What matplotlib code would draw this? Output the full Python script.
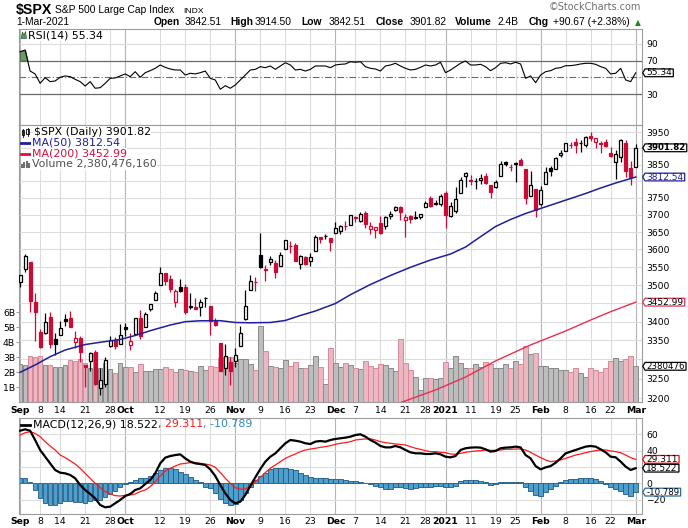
import numpy as np
import pandas as pd
import matplotlib
matplotlib.use("Agg")
import matplotlib.pyplot as plt
import matplotlib.transforms as mtransforms
from matplotlib.path import Path
from matplotlib.patches import Polygon
from matplotlib.lines import Line2D
from matplotlib.ticker import NullLocator, NullFormatter

plt.rcParams['font.family'] = ['DejaVu Sans']
W, H = 688, 528

# ---------------- data ----------------
holidays = ['2020-09-07', '2020-11-26', '2020-12-25', '2021-01-01', '2021-01-18', '2021-02-15']
dates = [d.strftime('%Y-%m-%d') for d in pd.bdate_range('2020-09-01', '2021-03-01')
         if d.strftime('%Y-%m-%d') not in holidays]

opens = [3507.44, 3543.76, 3564.74, 3453.60, 3371.88, 3369.82, 3412.56, 3352.70, 3363.56, 3407.73,
         3411.23, 3346.86, 3357.38, 3285.57, 3295.75, 3320.11, 3226.14, 3236.66, 3333.90, 3350.92, 3341.21,
         3385.87, 3338.94, 3367.27, 3408.74, 3384.56, 3434.28, 3459.67, 3500.02, 3534.01, 3515.47,
         3453.72, 3493.50, 3493.66, 3439.38, 3439.91, 3438.50, 3464.90, 3441.42, 3403.15, 3342.48,
         3277.17, 3293.59,
         3296.20, 3336.25, 3406.46, 3485.74, 3508.34, 3583.04, 3543.26, 3563.22, 3562.67, 3552.57,
         3600.16, 3610.31, 3612.09, 3559.41, 3579.31, 3566.82, 3594.52, 3635.50, 3638.55, 3634.18,
         3645.87, 3653.78, 3668.28, 3670.94, 3694.73, 3683.05, 3705.98, 3659.13, 3656.08, 3675.27,
         3666.41, 3696.25, 3713.65, 3722.39, 3684.28, 3698.08, 3693.42, 3694.03, 3723.03, 3750.01,
         3736.19, 3733.27,
         3764.61, 3698.02, 3712.20, 3764.71, 3815.05, 3803.14, 3801.62, 3802.23, 3814.98, 3788.73,
         3781.88, 3816.22, 3857.46, 3844.24, 3851.68, 3862.96, 3836.83, 3755.75, 3778.05,
         3731.17, 3791.84, 3840.27, 3836.66, 3878.30, 3892.59, 3910.49, 3920.78, 3916.40, 3911.65,
         3939.61, 3918.50, 3915.86, 3921.16, 3885.55, 3857.07, 3873.71, 3915.80, 3839.66,
         3842.51]
highs = [3528.03, 3588.11, 3564.85, 3479.15, 3379.97, 3424.77, 3425.55, 3368.95, 3402.93, 3419.48,
         3428.92, 3375.17, 3362.27, 3285.57, 3320.31, 3323.35, 3278.70, 3306.88, 3360.74, 3357.92, 3393.56,
         3397.18, 3369.10, 3409.57, 3431.56, 3426.26, 3447.28, 3482.34, 3549.85, 3534.01, 3527.94,
         3489.08, 3515.76, 3502.42, 3476.93, 3464.86, 3460.53, 3466.46, 3441.42, 3409.51, 3342.48,
         3341.05, 3304.93,
         3330.14, 3389.49, 3486.25, 3529.05, 3521.58, 3645.99, 3557.22, 3581.16, 3569.02, 3593.66,
         3628.51, 3623.11, 3619.09, 3585.22, 3581.23, 3589.81, 3642.31, 3635.50, 3644.31, 3634.18,
         3678.45, 3670.96, 3682.73, 3699.20, 3697.41, 3708.45, 3712.39, 3678.49, 3665.91, 3697.61,
         3695.29, 3711.27, 3725.12, 3726.70, 3702.90, 3698.26, 3711.24, 3703.82, 3740.51, 3756.12,
         3744.63, 3760.20,
         3769.99, 3737.83, 3783.04, 3811.55, 3826.69, 3817.86, 3810.78, 3820.96, 3823.60, 3788.73,
         3804.53, 3859.75, 3861.45, 3852.31, 3859.23, 3870.90, 3836.83, 3830.50, 3778.05,
         3784.32, 3843.09, 3847.51, 3872.42, 3894.56, 3915.77, 3918.35, 3931.50, 3925.99, 3937.23,
         3950.43, 3933.61, 3921.98, 3930.41, 3902.92, 3895.98, 3928.65, 3925.02, 3861.08,
         3914.50]
lows = [3494.60, 3535.23, 3427.41, 3349.63, 3329.27, 3366.84, 3329.25, 3310.47, 3363.56, 3389.25,
        3384.45, 3328.82, 3292.40, 3229.10, 3270.95, 3232.57, 3209.45, 3228.44, 3332.91, 3327.54, 3340.47,
        3361.39, 3323.69, 3367.27, 3354.54, 3384.56, 3428.15, 3458.07, 3499.61, 3500.86, 3480.55,
        3440.89, 3480.45, 3419.93, 3435.65, 3433.06, 3415.34, 3440.45, 3364.86, 3388.71, 3268.89,
        3259.82, 3233.94,
        3279.74, 3336.25, 3405.17, 3485.74, 3484.34, 3547.48, 3511.91, 3557.00, 3518.58, 3552.57,
        3600.16, 3588.68, 3567.33, 3543.84, 3556.85, 3552.77, 3594.52, 3617.76, 3629.33, 3594.39,
        3645.87, 3644.84, 3657.17, 3670.94, 3678.88, 3678.83, 3660.54, 3645.18, 3633.40, 3645.84,
        3659.62, 3688.57, 3710.87, 3685.84, 3636.48, 3676.16, 3689.28, 3689.32, 3723.03, 3723.31,
        3730.21, 3726.88,
        3662.71, 3695.07, 3705.34, 3764.71, 3783.60, 3789.02, 3776.51, 3791.50, 3792.86, 3749.62,
        3780.37, 3816.22, 3845.05, 3830.41, 3797.16, 3847.78, 3732.48, 3755.75, 3694.12,
        3725.62, 3791.84, 3816.68, 3836.66, 3874.93, 3892.59, 3902.64, 3884.94, 3890.39, 3905.78,
        3923.85, 3900.43, 3885.03, 3903.07, 3874.71, 3805.59, 3859.60, 3814.04, 3789.54,
        3842.51]
closes = [3526.65, 3580.84, 3455.06, 3426.96, 3331.84, 3398.96, 3339.19, 3340.97, 3383.54, 3401.20,
          3385.49, 3357.01, 3319.47, 3281.06, 3315.57, 3236.92, 3246.59, 3298.46, 3351.60, 3335.47, 3363.00,
          3380.80, 3348.42, 3408.60, 3360.97, 3419.44, 3446.83, 3477.14, 3534.22, 3511.93, 3488.67,
          3483.34, 3483.81, 3426.92, 3443.12, 3435.56, 3453.49, 3465.39, 3400.97, 3390.68, 3271.03,
          3310.11, 3269.96,
          3310.24, 3369.16, 3443.44, 3510.45, 3509.44, 3550.50, 3545.53, 3572.66, 3537.01, 3585.15,
          3626.91, 3609.53, 3567.79, 3581.87, 3557.54, 3577.59, 3635.41, 3629.65, 3638.35, 3621.63,
          3662.45, 3669.01, 3666.72, 3699.12, 3691.96, 3702.25, 3672.82, 3668.10, 3663.46, 3647.49,
          3694.62, 3701.17, 3722.48, 3709.41, 3694.92, 3687.26, 3690.01, 3703.06, 3735.36, 3727.04,
          3732.04, 3756.07,
          3700.65, 3726.86, 3748.14, 3803.79, 3824.68, 3799.61, 3801.19, 3809.84, 3795.54, 3768.25,
          3798.91, 3851.85, 3853.07, 3841.47, 3855.36, 3849.62, 3750.77, 3787.38, 3714.24,
          3773.86, 3826.31, 3830.17, 3871.74, 3886.83, 3915.59, 3911.23, 3909.88, 3916.38, 3934.83,
          3932.59, 3931.33, 3913.97, 3906.71, 3876.50, 3881.37, 3925.43, 3829.34, 3811.15,
          3901.82]
prev_close_start = 3500.31

volume_b = [2.51, 2.50, 3.10, 3.00, 3.08, 2.47, 2.50, 2.31, 2.31, 2.44,
            2.80, 2.73, 2.90, 2.62, 2.25, 3.29, 2.30, 2.60, 2.20, 1.91,
            2.58, 2.31, 2.31, 1.98, 2.51, 2.07, 2.07, 2.20, 2.20, 2.36,
            2.18, 2.02, 2.20, 2.13, 2.09, 2.02, 2.40, 2.13, 2.40, 2.31,
            2.91, 2.98, 2.98, 2.58, 2.84, 2.84, 2.53, 2.13, 5.04, 3.40,
            2.42, 2.36, 2.24, 2.80, 2.40, 2.69, 2.24, 2.29, 2.47, 3.09,
            2.31, 1.18, 3.58, 2.58, 2.31, 2.58, 2.50, 2.30, 2.18, 2.72,
            2.38, 2.24, 2.51, 2.45, 2.24, 2.10, 4.20, 2.58, 2.13, 1.65,
            0.80, 1.62, 1.58, 1.55, 1.60, 2.66, 2.30, 3.10, 2.62, 2.30,
            2.30, 2.55, 2.35, 2.68, 2.55, 2.30, 2.30, 2.51, 2.24, 2.73,
            2.51, 3.73, 3.20, 3.27, 2.40, 2.40, 2.24, 2.28, 2.13, 2.13,
            2.02, 2.24, 1.91, 1.70, 2.24, 2.13, 2.02, 2.30, 2.73, 2.91,
            2.75, 2.88, 3.07, 2.38]
volume_last = '2380476'

ma50_idx = [0, 3, 6, 9, 13, 16, 20, 23, 26, 30, 33, 36, 40, 43, 46, 50, 53, 56, 59, 63,
            66, 70, 74, 78, 82, 86, 89, 92, 95, 98, 101, 104, 107, 110, 113, 116, 119, 123]
ma50_val = [3266.4, 3285.4, 3307.0, 3324.6, 3339.0, 3345.0, 3352.4, 3363.0, 3375.8, 3391.0,
            3400.0, 3402.4, 3402.7, 3397.8, 3397.0, 3397.8, 3403.3, 3416.7, 3428.8, 3449.3,
            3473.4, 3501.6, 3526.6, 3549.6, 3570.1, 3587.1, 3607.0, 3636.6, 3666.1, 3686.5,
            3704.1, 3718.8, 3733.5, 3748.3, 3763.2, 3779.6, 3794.6, 3812.54]
ma200_idx = [76, 83, 89, 95, 102, 109, 114, 118, 123]
ma200_val = [3189.0, 3221.0, 3254.0, 3296.0, 3338.0, 3375.0, 3404.5, 3427.0, 3452.99]

rsi = [80.6, 82.6, 57.5, 54.0, 42.8, 49.6, 44.8, 45.6, 50.0, 51.6,
       50.8, 47.6, 44.8, 39.6, 44.8, 36.9, 37.6, 42.8, 48.8, 49.2,
       51.6, 54.0, 50.8, 56.7, 50.0, 55.5, 57.9, 60.7, 64.7, 61.9,
       59.9, 58.7, 58.7, 52.7, 54.8, 54.0, 55.5, 57.5, 48.8, 46.8,
       35.7, 40.0, 36.9, 40.8, 46.8, 52.7, 58.7, 59.5, 62.7, 61.5,
       63.5, 59.5, 63.5, 67.4, 64.7, 58.7, 59.5, 57.5, 59.5, 63.5,
       63.5, 63.5, 61.5, 64.7, 65.5, 65.9, 68.6, 67.9, 68.6, 62.7,
       60.7, 59.9, 57.5, 63.5, 64.7, 66.7, 63.5, 60.7, 58.7, 59.5,
       61.9, 64.7, 63.5, 64.7, 67.9, 55.5, 58.7, 62.7, 66.7, 69.5,
       64.7, 64.7, 65.5, 62.7, 57.9, 61.5, 66.7, 67.4, 65.9, 67.9,
       65.9, 48.8, 51.6, 43.6, 52.7, 56.7, 57.9, 60.7, 61.5, 63.9,
       63.9, 64.7, 65.9, 66.7, 66.7, 65.5, 62.7, 60.7, 54.0, 54.8,
       60.7, 46.8, 44.8, 55.34]

macd = [64.4, 66.1, 64.4, 53.0, 40.8, 32.6, 24.4, 16.3, 13.0, 12.2,
        10.2, 6.1, -2.1, -8.2, -13.1, -18.4, -26.6, -29.4, -28.6, -24.5,
        -20.4, -15.6, -13.1, -8.2, -6.2, -0.9, 4.0, 12.2, 24.4, 31.4,
        33.4, 34.6, 35.4, 30.5, 26.5, 24.4, 23.6, 22.4, 17.1, 8.9,
        -2.1, -12.3, -20.4, -24.5, -22.5, -14.3, -3.3, 7.3, 17.5, 26.5,
        32.6, 36.7, 42.9, 49.0, 53.0, 52.2, 51.0, 49.0, 48.1, 51.0,
        51.8, 51.0, 53.0, 54.3, 55.1, 55.9, 57.1, 59.1, 60.0, 57.1,
        53.0, 49.8, 45.7, 44.0, 44.0, 45.7, 44.0, 40.8, 37.9, 36.7,
        36.7, 35.9, 35.9, 36.7, 35.5, 32.6, 31.8, 33.4, 40.8, 42.9,
        43.7, 44.0, 43.7, 41.6, 38.8, 39.6, 42.9, 43.7, 44.0, 44.9,
        44.0, 34.6, 30.5, 21.1, 17.1, 19.5, 21.1, 25.2, 30.5, 36.7,
        38.8, 40.8, 42.9, 44.9, 45.7, 44.9, 41.6, 37.9, 32.6, 31.8,
        26.5, 20.4, 16.3, 18.522]
signal = [59.1, 61.9, 63.2, 61.1, 57.1, 51.0, 45.7, 40.8, 34.6, 31.4,
          27.7, 23.6, 18.4, 12.2, 6.1, 0.0, -5.3, -10.2, -13.1, -15.1,
          -15.6, -14.7, -14.3, -13.1, -10.2, -8.2, -4.1, 2.0, 9.0, 15.1,
          18.4, 21.2, 23.6, 24.4, 25.3, 25.3, 24.4, 23.6, 22.4, 19.6,
          13.1, 6.1, 0.0, -5.3, -7.3, -6.9, -4.1, 2.0, 7.3, 13.1,
          18.4, 22.4, 26.5, 30.5, 33.4, 35.9, 38.8, 40.8, 42.0, 42.9,
          44.0, 44.9, 46.1, 47.7, 49.0, 49.8, 51.0, 53.0, 53.8, 54.3,
          54.3, 53.0, 51.0, 49.8, 49.0, 48.1, 47.7, 46.9, 44.9, 42.9,
          41.6, 40.0, 38.8, 38.8, 37.9, 37.5, 35.9, 35.5, 36.7, 37.9,
          38.8, 39.6, 40.0, 40.8, 40.4, 40.4, 40.8, 41.6, 41.6, 42.0,
          42.0, 40.8, 37.9, 34.6, 31.4, 28.6, 26.5, 27.3, 28.6, 30.5,
          32.6, 34.6, 35.9, 37.5, 38.8, 40.0, 40.8, 40.8, 39.6, 38.8,
          37.5, 34.6, 31.4, 29.311]
hist = [6, 7, 1, -8, -18, -24, -26, -26, -24, -22,
        -22, -23, -23, -24, -22, -20, -20, -17, -13, -9,
        -5, -1, 2, 4, 6, 7, 9, 12, 16, 19,
        19, 17, 14, 11, 8, 4, 1, -4, -6, -12,
        -19, -24, -26, -25, -20, -12, -4, 4, 9, 13,
        17, 19, 19, 19, 18, 16, 13, 10, 8, 7,
        6, 6, 5, 5, 5, 4, 3, 3, 2, 0,
        -1, -3, -5, -7, -7, -5, -4, -6, -7, -6,
        -5, -5, -4, -3, -3, -5, -5, -3, 3, 4,
        4, 4, 3, 1, -2, -1, 1, 2, 2, 2,
        2, -4, -9, -14, -15, -11, -7, -3, 1, 4,
        5, 5, 6, 6, 6, 5, 3, -1, -5, -7,
        -10, -13, -15, -10.789]

tick_dates = ['2020-09-01', '2020-09-08', '2020-09-14', '2020-09-21', '2020-09-28', '2020-10-01',
              '2020-10-12', '2020-10-19', '2020-10-26', '2020-11-02', '2020-11-09', '2020-11-16',
              '2020-11-23', '2020-12-01', '2020-12-07', '2020-12-14', '2020-12-21', '2020-12-28',
              '2021-01-04', '2021-01-11', '2021-01-19', '2021-01-25', '2021-02-01', '2021-02-08',
              '2021-02-16', '2021-02-22', '2021-03-01']
tick_labels = ['Sep', '8', '14', '21', '28', 'Oct', '12', '19', '26', 'Nov', '9', '16', '23', 'Dec',
               '7', '14', '21', '28', '2021', '11', '19', '25', 'Feb', '8', '16', '22', 'Mar']
month_labels = {'Sep', 'Oct', 'Nov', 'Dec', '2021', 'Feb', 'Mar'}
price_grid = list(range(3200, 3951, 50))
price_labels = [3200, 3250, 3350, 3400, 3500, 3550, 3600, 3650, 3700, 3750, 3850, 3950]
vol_ticks = [1, 2, 3, 4, 5, 6]
rsi_labels = [30, 70, 90]
macd_labels = [-20, 0, 40, 60]

# ---------------- styles ----------------
RED = '#cc0a36'
GRID = '#dcdcdc'
GRID_M = '#b4b4b4'
SPINE = '#9c9c9c'
LBL = 6.7

n = len(closes)
x = np.arange(n)
tick_pos = [dates.index(d) for d in tick_dates]

fig = plt.figure(figsize=(W / 100, H / 100), dpi=100)
fig.patch.set_facecolor('white')


def rect(l, t, r, b):
    return [l / W, 1 - b / H, (r - l) / W, (b - t) / H]


L, R = 19.3, 641.7
XLIM = (-0.16, 124.2)
P_LO, P_HI = 3190.5, 3972.9
VOL_TOP = 18.47

ax_rsi = fig.add_axes(rect(L, 29.3, R, 125))
ax_vol = fig.add_axes(rect(L, 125, R, 402))
ax_px = fig.add_axes(rect(L, 125, R, 402))
ax_macd = fig.add_axes(rect(L, 418.3, R, 514))
ax_px.set_facecolor('none')

for ax in (ax_rsi, ax_vol, ax_px, ax_macd):
    ax.set_xlim(*XLIM)
    for s in ax.spines.values():
        s.set_color(SPINE)
        s.set_linewidth(0.8)
for s in ax_px.spines.values():
    s.set_visible(False)


def vgrid(ax):
    for p, lab in zip(tick_pos, tick_labels):
        ax.axvline(p, color=GRID_M if lab in month_labels else GRID, lw=0.8, zorder=0)


# ---------------- price panel ----------------
ax_px.set_yscale('log')
ax_px.set_ylim(P_LO, P_HI)
ax_vol.set_ylim(0, VOL_TOP)
vgrid(ax_vol)
for p in price_grid:
    f = (np.log(p) - np.log(P_LO)) / (np.log(P_HI) - np.log(P_LO))
    ax_vol.axhline(f * VOL_TOP, color=GRID, lw=0.8, zorder=0)

prev = [prev_close_start] + closes[:-1]
up_day = [c >= pc for c, pc in zip(closes, prev)]
vol_face = ['#bdbdbd' if u else '#ebb7c0' for u in up_day]
vol_edge = ['#8a8a8a' if u else '#d9899a' for u in up_day]
ax_vol.bar(x, volume_b, width=0.92, color=vol_face, edgecolor=vol_edge, linewidth=0.7, zorder=2)

cand_col = ['black' if u else RED for u in up_day]
body_lo = [min(o, c) for o, c in zip(opens, closes)]
body_h = [abs(c - o) for o, c in zip(opens, closes)]
body_face = ['white' if c > o else col for o, c, col in zip(opens, closes, cand_col)]
ax_px.vlines(x, lows, highs, colors=cand_col, linewidth=0.9, zorder=3)
ax_px.bar(x, body_h, bottom=body_lo, width=0.62, color=body_face, edgecolor=cand_col,
          linewidth=0.9, zorder=4)
ax_px.plot(ma50_idx, ma50_val, color='#1f1f99', lw=1.1, zorder=5)
ax_px.plot(ma200_idx, ma200_val, color='#e5304f', lw=1.0, zorder=5)

ax_px.yaxis.set_minor_locator(NullLocator())
ax_px.yaxis.set_minor_formatter(NullFormatter())
ax_px.set_yticks(price_labels)
ax_px.set_yticklabels([str(p) for p in price_labels])
ax_px.tick_params(axis='y', which='both', left=False, right=False, labelleft=False, labelright=True,
                  length=0, pad=3.2, labelsize=LBL)
ax_px.set_xticks([])

ax_vol.set_yticks(vol_ticks)
ax_vol.set_yticklabels([f'{v}B' for v in vol_ticks])
ax_vol.tick_params(axis='y', left=True, right=False, length=2, width=0.7, color=SPINE, pad=1,
                   labelsize=LBL)
ax_vol.set_xticks(tick_pos)
ax_vol.set_xticklabels(tick_labels)
ax_vol.tick_params(axis='x', length=0, pad=2.6, labelsize=LBL)

# ---------------- RSI panel ----------------
ax_rsi.set_ylim(-6.96, 107.3)
vgrid(ax_rsi)
ax_rsi.axhline(90, color=GRID, lw=0.8, zorder=0)
ax_rsi.axhline(70, color='#6a6a6a', lw=0.9, zorder=1)
ax_rsi.axhline(30, color='#6a6a6a', lw=0.9, zorder=1)
ax_rsi.axhline(50, color='#6a6a6a', lw=0.8, ls=(0, (6, 2, 1, 2)), zorder=1)
rsi_arr = np.array(rsi)
ax_rsi.fill_between(x, rsi_arr, 70, where=rsi_arr >= 70, interpolate=True, color='#6d9a6d',
                    edgecolor='#3c6a3c', lw=0.6, zorder=2)
ax_rsi.plot(x, rsi, color='black', lw=0.8, zorder=3)
ax_rsi.set_yticks(rsi_labels)
ax_rsi.tick_params(axis='y', left=False, right=False, labelleft=False, labelright=True, length=0,
                   pad=3.2, labelsize=LBL)
ax_rsi.set_xticks([])

# ---------------- MACD panel ----------------
ax_macd.set_ylim(-37.6, 79.6)
vgrid(ax_macd)
for v in (-20, 0, 20, 40, 60):
    ax_macd.axhline(v, color=GRID, lw=0.8, zorder=0)
ax_macd.bar(x, hist, width=0.92, color='#4f9fcc', edgecolor='#1e5a85', linewidth=0.6, zorder=2)
ax_macd.plot(x, signal, color='#ff1a1a', lw=0.9, zorder=3)
ax_macd.plot(x, macd, color='black', lw=1.6, zorder=4)
ax_macd.set_yticks(macd_labels)
ax_macd.tick_params(axis='y', left=False, right=False, labelleft=False, labelright=True, length=0,
                    pad=3.2, labelsize=LBL)
ax_macd.set_xticks(tick_pos)
ax_macd.set_xticklabels(tick_labels)
ax_macd.tick_params(axis='x', length=0, pad=2.2, labelsize=LBL)

for ax in (ax_vol, ax_macd):
    for t in ax.get_xticklabels():
        if t.get_text() in month_labels:
            t.set_fontweight('bold')


# ---------------- value tags ----------------
def tag_path(x0, y0, width, height, mutation_size):
    px = 0.14 * mutation_size
    py = -0.07 * mutation_size
    x0, y0, w, h = x0 - px, y0 - py, width + 2 * px, height + 2 * py
    tip = 0.3 * h
    verts = [(x0, y0), (x0 + w, y0), (x0 + w, y0 + h), (x0, y0 + h), (x0 - tip, y0 + h / 2),
             (x0, y0), (x0, y0)]
    codes = [Path.MOVETO] + [Path.LINETO] * 5 + [Path.CLOSEPOLY]
    return Path(verts, codes)


def tag(ax, y, s, ec, tc='black', bold=False, ytrans=None, size=6.5):
    base = mtransforms.blended_transform_factory(
        ax.transAxes, ytrans if ytrans is not None else ax.transData)
    trans = base + mtransforms.ScaledTranslation(4.6 / 100, 0, fig.dpi_scale_trans)
    ax.text(1.0, y, s, transform=trans, ha='left', va='center', fontsize=size, color=tc,
            fontweight='bold' if bold else 'normal', zorder=20, clip_on=False,
            bbox=dict(boxstyle=tag_path, fc='white', ec=ec, lw=0.9))


tag(ax_px, closes[-1], f'{closes[-1]:.2f}', 'black', bold=True, size=6.2)
tag(ax_px, ma50_val[-1], f'{ma50_val[-1]:.2f}', '#1f1f99', tc='#1f1f99')
tag(ax_px, ma200_val[-1], f'{ma200_val[-1]:.2f}', '#e5304f')
tag(ax_px, volume_b[-1], volume_last, 'black', ytrans=ax_vol.transData, size=6.2)
tag(ax_rsi, rsi[-1], f'{rsi[-1]:.2f}', 'black')
tag(ax_macd, signal[-1], f'{signal[-1]:.3f}', '#e01010')
tag(ax_macd, macd[-1], f'{macd[-1]:.3f}', 'black')
tag(ax_macd, hist[-1], f'{hist[-1]:.3f}', '#2a6aa8', size=6.2)


# ---------------- texts ----------------
def ftext(xp, yp, s, **kw):
    return fig.text(xp / W, 1 - yp / H, s, **kw)


renderer = fig.canvas.get_renderer()


def chain(x0, yp, parts, **kw):
    xp = x0
    for s, extra in parts:
        t = ftext(xp, yp, s, **kw, **extra)
        bb = t.get_window_extent(renderer)
        xp = bb.x1


HF = ['Liberation Sans', 'DejaVu Sans']
ftext(16, 14.2, '$SPX', fontsize=10.2, fontweight='bold', family=HF, va='baseline')
ftext(55, 13.4, 'S&P 500 Large Cap Index', fontsize=7.4, family=HF, va='baseline')
ftext(183, 13.4, 'INDX', fontsize=6.1, family=HF, va='baseline')
ftext(16.5, 25.2, '1-Mar-2021', fontsize=7.4, family=HF, va='baseline')
ftext(641, 9.5, '©StockCharts.com', fontsize=7.0, color='#6e6e6e', ha='right', va='baseline')
hdr = [(154, 'Open', True), (184.3, f'{opens[-1]:.2f}', False), (230, 'High', True),
       (255, f'{highs[-1]:.2f}', False), (301.7, 'Low', True), (328.3, f'{lows[-1]:.2f}', False),
       (375.7, 'Close', True), (410, f'{closes[-1]:.2f}', False), (455, 'Volume', True),
       (497.3, '2.4B', False), (529, 'Chg', True),
       (553.3, f'+{closes[-1] - closes[-2]:.2f} (+{(closes[-1] / closes[-2] - 1) * 100:.2f}%)', False)]
for xp, s, b in hdr:
    ftext(xp, 25.2, s, fontsize=7.4, family=HF, fontweight='bold' if b else 'normal', va='baseline')
ftext(634.5, 25.0, '▲', fontsize=5.5, color='#1a8a1a', va='baseline')

LEG = 7.9
bbox_w = dict(boxstyle='square,pad=0.05', fc='white', ec='none')
ftext(27.5, 35.5, f'RSI(14) {rsi[-1]:.2f}', fontsize=LEG, va='center', bbox=bbox_w)
ftext(33.5, 132.3, f'$SPX (Daily) {closes[-1]:.2f}', fontsize=LEG, va='center', bbox=bbox_w)
ftext(31.5, 143.0, f'MA(50) {ma50_val[-1]:.2f}', fontsize=LEG, va='center', color='#1f1f99', bbox=bbox_w)
ftext(31.5, 153.7, f'MA(200) {ma200_val[-1]:.2f}', fontsize=LEG, va='center', color='#d4113f', bbox=bbox_w)
ftext(31.5, 164.3, 'Volume 2,380,476,160', fontsize=LEG, va='center', color='#505050', bbox=bbox_w)
chain(33.3, 424.5, [(f'MACD(12,26,9) {macd[-1]:.3f}', dict(color='black')),
                    (f', {signal[-1]:.3f}', dict(color='#ff1a1a')),
                    (f', {hist[-1]:.3f}', dict(color='#2a8ac8'))],
      fontsize=LEG, va='center')


# legend icons (figure pixel coordinates)
def fpoly(pts, **kw):
    fig.patches.append(Polygon([(a / W, 1 - b / H) for a, b in pts], closed=True,
                               transform=fig.transFigure, **kw))


def fline(xs, ys, **kw):
    fig.lines.append(Line2D([a / W for a in xs], [1 - b / H for b in ys], transform=fig.transFigure, **kw))


fpoly([(21, 38.5), (22.5, 32), (24, 35.5), (25.5, 31.5), (26.5, 38.5)], fc='#5f9a5f', ec='#2f5f2f', lw=0.5)
fline([21, 30], [143.0, 143.0], color='#1f1f99', lw=2.0)
fline([21, 30], [153.7, 153.7], color='#d4113f', lw=2.0)
fline([21, 29.5], [424.5, 424.5], color='black', lw=2.0)
for xx, hh in ((22, 4), (24.3, 6), (26.6, 7), (28.9, 5)):
    fpoly([(xx - 0.9, 168), (xx + 0.9, 168), (xx + 0.9, 168 - hh), (xx - 0.9, 168 - hh)],
          fc='#707070', ec='none')
for xx, top, bot in ((23, 128.5, 136.5), (27.5, 127.5, 135.5)):
    fline([xx, xx], [top, bot], color='black', lw=0.6)
    fpoly([(xx - 1.2, bot - 1.5), (xx + 1.2, bot - 1.5), (xx + 1.2, top + 1.5), (xx - 1.2, top + 1.5)],
          fc='white', ec='black', lw=0.6)

fig.savefig('out.png', dpi=100, facecolor='white')
